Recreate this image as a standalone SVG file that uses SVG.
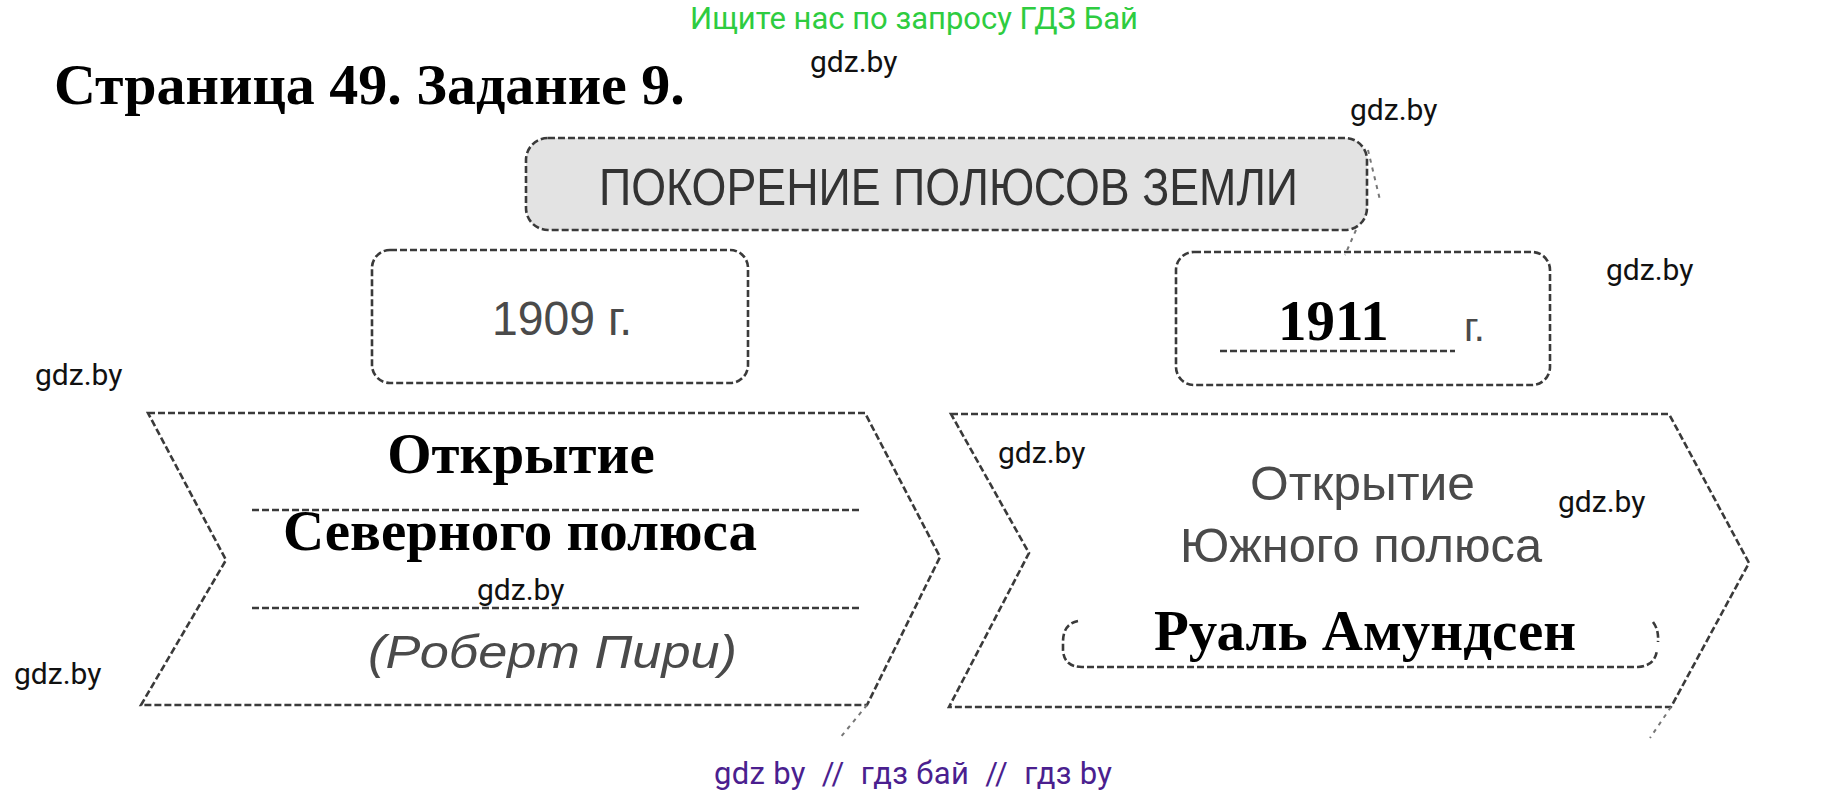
<svg xmlns="http://www.w3.org/2000/svg" width="1830" height="796" viewBox="0 0 1830 796">
<style>
.dash{fill:none;stroke:#3a3a3a;stroke-width:2.6;stroke-dasharray:7 3}
.faint{fill:none;stroke:#777;stroke-width:2;stroke-dasharray:4 5}
.wm{font-family:Roboto,"Liberation Sans",sans-serif;font-size:30px;fill:#111}
.big{font-family:"Liberation Serif",serif;font-weight:bold;fill:#000}
.grey{font-family:"Liberation Sans",sans-serif;fill:#4a4a4a}
</style>
<rect width="1830" height="796" fill="#fff"/>
<text x="914" y="29" text-anchor="middle" font-family="Roboto,'Liberation Sans',sans-serif" font-size="31" fill="#2ecc40">Ищите нас по запросу ГДЗ Бай</text>
<text x="54" y="104" class="big" font-size="58">Страница 49. Задание 9.</text>

<g id="title">
<rect x="526" y="138" width="841" height="92" rx="22" class="dash" style="fill:#e3e3e3"/>
<text x="599" y="205" class="grey" font-size="52" textLength="699" lengthAdjust="spacingAndGlyphs" style="fill:#333">ПОКОРЕНИЕ ПОЛЮСОВ ЗЕМЛИ</text>
</g>

<g id="year1909">
<rect x="372" y="250" width="376" height="133" rx="18" class="dash"/>
<text x="492" y="335" class="grey" font-size="48" textLength="140" lengthAdjust="spacingAndGlyphs">1909 г.</text>
</g>

<g id="year1911">
<rect x="1176" y="252" width="374" height="133" rx="18" class="dash"/>
<text x="1278" y="340" class="big" font-size="57">1911</text>
<line x1="1220" y1="351" x2="1455" y2="351" class="dash"/>
<text x="1464" y="341" class="grey" font-size="40">г.</text>
</g>

<g id="north">
<path d="M148,413 L865,413 L940,557 L867,705 L141,705 L226,560 Z" class="dash"/>
<line x1="252" y1="510" x2="862" y2="510" class="dash"/>
<line x1="252" y1="608" x2="862" y2="608" class="dash"/>
<text x="521" y="473" class="big" font-size="57" text-anchor="middle">Открытие</text>
<text x="520" y="550" class="big" font-size="57" text-anchor="middle">Северного полюса</text>
<text x="368" y="668" class="grey" font-size="46" font-style="italic" textLength="369" lengthAdjust="spacingAndGlyphs">(Роберт Пири)</text>
</g>

<g id="south">
<path d="M951,414 L1669,414 L1749,563 L1671,707 L949,707 L1029,553 Z" class="dash"/>
<text x="1250" y="500" class="grey" font-size="48" textLength="225" lengthAdjust="spacingAndGlyphs">Открытие</text>
<text x="1180" y="562" class="grey" font-size="48" textLength="362" lengthAdjust="spacingAndGlyphs">Южного полюса</text>
<path d="M1078,621 Q1063,624 1063,642 L1063,650 Q1064,667 1082,667 L1638,667 Q1655,666 1657,650 M1653,622 Q1659,630 1658,642" class="dash"/>
<text x="1365" y="650" class="big" font-size="57" text-anchor="middle">Руаль Амундсен</text>
</g>

<g id="connectors">
<path d="M1368,150 L1380,200" class="faint"/>
<path d="M1356,230 L1345,255" class="faint"/>
<path d="M867,705 L840,738" class="faint"/>
<path d="M1671,707 L1650,738" class="faint"/>
</g>

<g id="watermarks">
<text x="810" y="72" class="wm">gdz.by</text>
<text x="1350" y="120" class="wm">gdz.by</text>
<text x="1606" y="280" class="wm">gdz.by</text>
<text x="35" y="385" class="wm">gdz.by</text>
<text x="998" y="463" class="wm">gdz.by</text>
<text x="1558" y="512" class="wm">gdz.by</text>
<text x="477" y="600" class="wm">gdz.by</text>
<text x="14" y="684" class="wm">gdz.by</text>
</g>
<text x="913" y="784" text-anchor="middle" font-family="Roboto,'Liberation Sans',sans-serif" font-size="31" fill="#4b1f8f" style="white-space:pre" xml:space="preserve" textLength="398" lengthAdjust="spacing">gdz by  //  гдз бай  //  гдз by</text>
</svg>
